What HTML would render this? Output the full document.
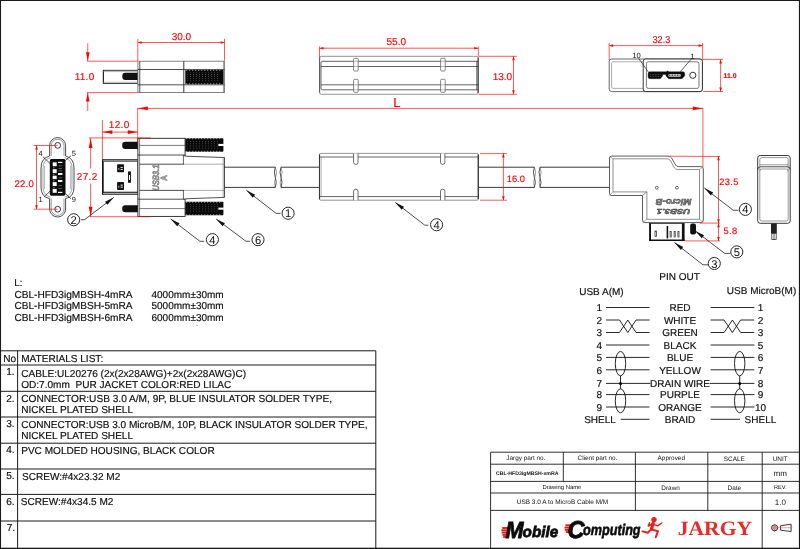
<!DOCTYPE html>
<html><head><meta charset="utf-8"><title>USB 3.0 A to MicroB Cable M/M</title>
<style>
html,body{margin:0;padding:0;background:#fff;overflow:hidden}
svg{display:block}
#sheet{width:800px;height:549px;will-change:transform;transform:translateZ(0)}
text{font-family:"Liberation Sans",sans-serif;text-rendering:geometricPrecision}
.g{letter-spacing:.3px}
#mtable text,#ltext text,#pinout text{stroke:#111;stroke-width:.18px}
</style></head><body>
<div id="sheet">
<svg width="800" height="549" viewBox="0 0 800 549">
<defs>
<pattern id="kn" width="3" height="2.1" patternUnits="userSpaceOnUse"><rect width="3" height="2.1" fill="#0a0a0a"/><rect x="1" y="0.7" width="0.8" height="0.7" fill="#777"/></pattern>
</defs>
<rect x="0" y="0" width="800" height="549" fill="#fff"/>
<g id="border">
<rect x="0" y="0" width="800" height="1" fill="#1a1a1a"/><rect x="0" y="0" width="1.05" height="549" fill="#1a1a1a"/><rect x="798.9" y="0" width="1.1" height="549" fill="#1a1a1a"/><rect x="0" y="547.7" width="800" height="1.3" fill="#1a1a1a"/>
</g>
<g id="topA">
<rect x="103.4" y="70.3" width="34.5" height="13.1" rx="0" fill="#fff" stroke="#222" stroke-width="0.9"/>
<line x1="103.4" y1="70.3" x2="103.4" y2="83.4" stroke="#222" stroke-width="1.1" />
<line x1="103.4" y1="71.6" x2="137.9" y2="71.6" stroke="#999" stroke-width="0.7" />
<line x1="103.4" y1="82.2" x2="137.9" y2="82.2" stroke="#999" stroke-width="0.7" />
<rect x="122.3" y="72.8" width="20" height="7.2" rx="3" fill="#111"/>
<rect x="137.9" y="61.2" width="86.6" height="31.4" rx="0" fill="#fff" stroke="#666" stroke-width="0.8"/>
<rect x="138" y="61.4" width="1.7" height="31" fill="#ccc"/>
<line x1="139.8" y1="61.2" x2="139.8" y2="92.6" stroke="#222" stroke-width="0.7" />
<line x1="137.9" y1="69.5" x2="224.5" y2="69.5" stroke="#222" stroke-width="0.8" />
<line x1="137.9" y1="84.8" x2="224.5" y2="84.8" stroke="#222" stroke-width="0.8" />
<line x1="183.8" y1="61.2" x2="183.8" y2="92.6" stroke="#222" stroke-width="0.9" />
<line x1="223.4" y1="61.2" x2="223.4" y2="92.6" stroke="#555" stroke-width="0.6" />
<rect x="185.3" y="69.9" width="38.1" height="14.3" rx="0.8" fill="#0a0a0a"/><rect x="187.3" y="72.5" width="32.1" height="9.1" fill="url(#kn)"/><line x1="186.3" y1="70.3" x2="222.4" y2="70.3" stroke="#fff" stroke-width="0.8" stroke-dasharray="0.9 2.1"/><line x1="186.3" y1="83.8" x2="222.4" y2="83.8" stroke="#fff" stroke-width="0.8" stroke-dasharray="0.9 2.1"/>
</g>
<g id="dimTopA">
<line x1="137.8" y1="39" x2="137.8" y2="61" stroke="#f00" stroke-width="0.65" />
<line x1="224.5" y1="38.8" x2="224.5" y2="60.6" stroke="#f00" stroke-width="0.65" />
<line x1="137.8" y1="42.5" x2="224.5" y2="42.5" stroke="#f00" stroke-width="0.65" />
<polygon points="137.80,42.50 141.60,41.20 141.60,43.80" fill="#f00"/>
<polygon points="224.50,42.50 220.70,43.80 220.70,41.20" fill="#f00"/>
<text x="181.4" y="40" font-size="10" text-anchor="middle" fill="#f00"  stroke="#f00" stroke-width="0.15">30.0</text>
<line x1="87" y1="61.2" x2="137.8" y2="61.2" stroke="#f00" stroke-width="0.65" />
<line x1="87" y1="92.6" x2="137.8" y2="92.6" stroke="#f00" stroke-width="0.65" />
<line x1="87.75" y1="43.4" x2="87.75" y2="61.2" stroke="#f00" stroke-width="0.65" />
<polygon points="87.75,61.00 85.95,52.20 89.55,52.20" fill="#f00"/>
<line x1="87.75" y1="92.6" x2="87.75" y2="111" stroke="#f00" stroke-width="0.65" />
<polygon points="87.75,92.80 89.55,101.60 85.95,101.60" fill="#f00"/>
<text x="84.6" y="79.6" font-size="10" text-anchor="middle" fill="#f00" class="g" stroke="#f00" stroke-width="0.15">11.0</text>
</g>
<g id="topMid">
<rect x="319.5" y="56.3" width="158.8" height="38.0" rx="2" fill="#fff" stroke="#777" stroke-width="0.8"/>
<line x1="478.1" y1="57.5" x2="478.1" y2="93" stroke="#222" stroke-width="0.9" />
<line x1="319.7" y1="58" x2="319.7" y2="92.6" stroke="#444" stroke-width="0.8" />
<path d="M478.3,61.3 H322.5 Q321,61.3 321,62.8 V88.2 Q321,89.8 322.5,89.8 H478.3" fill="none" stroke="#222" stroke-width="0.7" />
<line x1="321" y1="66.5" x2="478.3" y2="66.5" stroke="#222" stroke-width="0.7" />
<line x1="321" y1="84.8" x2="478.3" y2="84.8" stroke="#222" stroke-width="0.7" />
<line x1="476.8" y1="61.3" x2="476.8" y2="89.8" stroke="#222" stroke-width="0.7" />
<rect x="353.6" y="58.3" width="4.6" height="12.7" rx="1" fill="#fff" stroke="#555" stroke-width="0.7"/>
<rect x="353.6" y="79.3" width="4.6" height="13.0" rx="1" fill="#fff" stroke="#555" stroke-width="0.7"/>
<line x1="353.6" y1="61.3" x2="358.20000000000005" y2="61.3" stroke="#777" stroke-width="0.5" />
<line x1="353.6" y1="66.5" x2="358.20000000000005" y2="66.5" stroke="#777" stroke-width="0.5" />
<line x1="353.6" y1="84.8" x2="358.20000000000005" y2="84.8" stroke="#777" stroke-width="0.5" />
<line x1="353.6" y1="89.8" x2="358.20000000000005" y2="89.8" stroke="#777" stroke-width="0.5" />
<rect x="440.6" y="58.3" width="4.6" height="12.7" rx="1" fill="#fff" stroke="#555" stroke-width="0.7"/>
<rect x="440.6" y="79.3" width="4.6" height="13.0" rx="1" fill="#fff" stroke="#555" stroke-width="0.7"/>
<line x1="440.6" y1="61.3" x2="445.20000000000005" y2="61.3" stroke="#777" stroke-width="0.5" />
<line x1="440.6" y1="66.5" x2="445.20000000000005" y2="66.5" stroke="#777" stroke-width="0.5" />
<line x1="440.6" y1="84.8" x2="445.20000000000005" y2="84.8" stroke="#777" stroke-width="0.5" />
<line x1="440.6" y1="89.8" x2="445.20000000000005" y2="89.8" stroke="#777" stroke-width="0.5" />
</g>
<g id="dimTopMid">
<line x1="319.5" y1="46.5" x2="319.5" y2="58" stroke="#f00" stroke-width="0.65" />
<line x1="478.3" y1="46.5" x2="478.3" y2="56.3" stroke="#f00" stroke-width="0.65" />
<line x1="319.5" y1="48.2" x2="478.3" y2="48.2" stroke="#f00" stroke-width="0.65" />
<polygon points="319.50,48.20 323.50,46.90 323.50,49.50" fill="#f00"/>
<polygon points="478.30,48.20 474.30,49.50 474.30,46.90" fill="#f00"/>
<text x="396.3" y="45.1" font-size="10" text-anchor="middle" fill="#f00"  stroke="#f00" stroke-width="0.15">55.0</text>
<line x1="478.5" y1="56.3" x2="516.8" y2="56.3" stroke="#f00" stroke-width="0.65" />
<line x1="478.5" y1="94.3" x2="516.8" y2="94.3" stroke="#f00" stroke-width="0.65" />
<line x1="513.5" y1="56.3" x2="513.5" y2="94.3" stroke="#f00" stroke-width="0.65" />
<polygon points="513.50,56.30 514.80,60.30 512.20,60.30" fill="#f00"/>
<polygon points="513.50,94.30 512.20,90.30 514.80,90.30" fill="#f00"/>
<text x="502.4" y="79.9" font-size="10" text-anchor="middle" fill="#f00"  stroke="#f00" stroke-width="0.15">13.0</text>
</g>
<g id="topB">
<rect x="609.2" y="59" width="93.2" height="32.6" rx="2.5" fill="#fff" stroke="#444" stroke-width="0.8"/>
<rect x="611.6" y="61.8" width="88.4" height="26.6" rx="1.5" fill="none" stroke="#777" stroke-width="0.6"/>
<rect x="643.2" y="59" width="59.2" height="32.6" rx="2.5" fill="#fff" stroke="#222" stroke-width="0.9"/>
<rect x="646.4" y="61.8" width="52.6" height="26.6" rx="2" fill="none" stroke="#444" stroke-width="0.7"/>
<path d="M650,71.8 H683 Q684.7,71.8 684.7,73.6 V75.8 L682,78.7 H668.6 L666,76 V74.5 H662.6 V76 L660.2,78.7 H650 Q648.1,78.7 648.1,77 V73.4 Q648.1,71.8 650,71.8 Z" fill="#0c0c0c" stroke="#111" stroke-width="0.4" />
<circle cx="667.6" cy="71.8" r="1" fill="#111"/>
<rect x="668.4" y="73.9" width="12.4" height="2.9" rx="1" fill="#ddd"/>
<line x1="669" y1="75.3" x2="680.4" y2="75.3" stroke="#333" stroke-width="1.6" stroke-dasharray="0.8 0.8"/>
<line x1="650.2" y1="74.6" x2="660.6" y2="74.6" stroke="#777" stroke-width="0.7" stroke-dasharray="0.7 0.9"/>
<line x1="650.2" y1="76.4" x2="660.6" y2="76.4" stroke="#777" stroke-width="0.7" stroke-dasharray="0.7 0.9"/>
<circle cx="692.8" cy="75.3" r="3.1" fill="none" stroke="#333" stroke-width="1"/>
<text x="636.6" y="57.6" font-size="7.6" text-anchor="middle" fill="#111" >10</text>
<text x="692.4" y="58.6" font-size="7.6" text-anchor="middle" fill="#111" >1</text>
<line x1="638.8" y1="58.6" x2="648.8" y2="72.6" stroke="#222" stroke-width="0.7" />
<line x1="691.2" y1="59.2" x2="680.2" y2="71.8" stroke="#222" stroke-width="0.7" />
</g>
<g id="dimTopB">
<line x1="609.2" y1="43" x2="609.2" y2="60" stroke="#f00" stroke-width="0.65" />
<line x1="702.6" y1="43" x2="702.6" y2="60" stroke="#f00" stroke-width="0.65" />
<line x1="609.2" y1="45.6" x2="702.6" y2="45.6" stroke="#f00" stroke-width="0.65" />
<polygon points="609.20,45.60 613.20,44.30 613.20,46.90" fill="#f00"/>
<polygon points="702.60,45.60 698.60,46.90 698.60,44.30" fill="#f00"/>
<text x="661.4" y="43" font-size="10" text-anchor="middle" fill="#f00" textLength="17.8" lengthAdjust="spacingAndGlyphs" stroke="#f00" stroke-width="0.15">32.3</text>
<line x1="703" y1="59.4" x2="723" y2="59.4" stroke="#f00" stroke-width="0.65" />
<line x1="703" y1="91.5" x2="723" y2="91.5" stroke="#f00" stroke-width="0.65" />
<line x1="720.6" y1="59.4" x2="720.6" y2="91.5" stroke="#f00" stroke-width="0.65" />
<polygon points="720.60,59.40 721.90,63.40 719.30,63.40" fill="#f00"/>
<polygon points="720.60,91.50 719.30,87.50 721.90,87.50" fill="#f00"/>
<text x="730.1" y="78" font-size="6.9" text-anchor="middle" fill="#f00" font-weight="bold" stroke="#f00" stroke-width="0.15">11.0</text>
</g>
<g id="dimL">
<line x1="137.7" y1="107.8" x2="137.7" y2="150" stroke="#f00" stroke-width="0.65" />
<line x1="702.9" y1="107.8" x2="702.9" y2="167" stroke="#f00" stroke-width="0.65" />
<line x1="137.8" y1="108.4" x2="703" y2="108.4" stroke="#f00" stroke-width="0.65" />
<polygon points="137.90,108.40 147.90,106.50 147.90,110.30" fill="#f00"/>
<polygon points="702.80,108.40 692.80,110.30 692.80,106.50" fill="#f00"/>
<text x="393.3" y="106.5" font-size="13" text-anchor="start" fill="#f00"  stroke="#f00" stroke-width="0.15">L</text>
</g>
<g id="endView">
<path d="M49.6,156 V145.6 A8,8 0 0 1 65.6,145.6 V156 M49.6,198.6 V209 A8,8 0 0 0 65.6,209 V198.6" fill="none" stroke="#222" stroke-width="0.8" />
<path d="M51.2,156 V145.6 A6.4,6.4 0 0 1 64,145.6 V156 M51.2,198.6 V209 A6.4,6.4 0 0 0 64,209 V198.6" fill="none" stroke="#555" stroke-width="0.6" />
<path d="M49.6,156 Q41,158 41,168 V187 Q41,197 49.6,198.6 M65.6,156 Q74,158 74,168 V187 Q74,197 65.6,198.6" fill="none" stroke="#222" stroke-width="0.8" />
<path d="M50.4,157.6 Q43,160 43,168 V187 Q43,195 50.4,197.2 M64.8,157.6 Q72,160 72,168 V187 Q72,195 64.8,197.2" fill="none" stroke="#666" stroke-width="0.6" />
<line x1="44.6" y1="166" x2="44.6" y2="189" stroke="#888" stroke-width="0.6" />
<line x1="70.6" y1="166" x2="70.6" y2="189" stroke="#888" stroke-width="0.6" />
<circle cx="57.7" cy="145.4" r="2.9" fill="none" stroke="#222" stroke-width="0.9"/>
<circle cx="57.7" cy="209.2" r="2.9" fill="none" stroke="#222" stroke-width="0.9"/>
<rect x="49.8" y="159.1" width="15.7" height="36.6" rx="1.6" fill="#0c0c0c"/>
<rect x="52.7" y="162.3" width="4" height="3.9" fill="#fff"/>
<rect x="52.7" y="169.2" width="4" height="3.9" fill="#fff"/>
<rect x="52.7" y="175.7" width="4" height="3.4" fill="#fff"/>
<rect x="52.7" y="182.1" width="4" height="3.9" fill="#fff"/>
<rect x="52.7" y="188.9" width="4" height="3.9" fill="#fff"/>
<rect x="58" y="161.8" width="4.4" height="1.2" fill="#f4f4f4"/>
<rect x="58" y="173" width="4.4" height="2" fill="#f4f4f4"/>
<rect x="58" y="180" width="4.4" height="2" fill="#f4f4f4"/>
<rect x="58" y="191.8" width="4.4" height="1.2" fill="#f4f4f4"/>
<rect x="58.6" y="165.5" width="3.4" height="0.7" fill="#777"/>
<rect x="58.6" y="168" width="3.4" height="0.7" fill="#777"/>
<rect x="58.6" y="170.5" width="3.4" height="0.7" fill="#777"/>
<rect x="58.6" y="177.5" width="3.4" height="0.7" fill="#777"/>
<rect x="58.6" y="185" width="3.4" height="0.7" fill="#777"/>
<rect x="58.6" y="188" width="3.4" height="0.7" fill="#777"/>
<rect x="53" y="167.4" width="1.6" height="0.9" fill="#999"/>
<rect x="53" y="174.2" width="1.6" height="0.9" fill="#999"/>
<rect x="53" y="180.3" width="1.6" height="0.9" fill="#999"/>
<rect x="53" y="187.2" width="1.6" height="0.9" fill="#999"/>
<text x="40.6" y="156.4" font-size="7.5" text-anchor="middle" fill="#111" >4</text>
<text x="73.8" y="156.4" font-size="7.5" text-anchor="middle" fill="#111" >5</text>
<text x="40.6" y="202.4" font-size="7.5" text-anchor="middle" fill="#111" >1</text>
<text x="73.8" y="202.4" font-size="7.5" text-anchor="middle" fill="#111" >9</text>
<line x1="42.9" y1="156.6" x2="50.3" y2="163.8" stroke="#222" stroke-width="0.8" />
<line x1="70.9" y1="155.9" x2="65" y2="160.8" stroke="#222" stroke-width="0.8" />
<line x1="44.4" y1="196.8" x2="50.8" y2="190.4" stroke="#222" stroke-width="0.8" />
<line x1="70.9" y1="198.7" x2="65" y2="193.3" stroke="#222" stroke-width="0.8" />
</g>
<g id="dimEnd">
<line x1="33.6" y1="145.5" x2="57.7" y2="145.5" stroke="#f00" stroke-width="0.65" />
<line x1="33.6" y1="209.2" x2="57.7" y2="209.2" stroke="#f00" stroke-width="0.65" />
<line x1="36.5" y1="145.5" x2="36.5" y2="209.2" stroke="#f00" stroke-width="0.65" />
<polygon points="36.50,145.50 37.80,149.50 35.20,149.50" fill="#f00"/>
<polygon points="36.50,209.20 35.20,205.20 37.80,205.20" fill="#f00"/>
<text x="24.3" y="186.8" font-size="9.5" text-anchor="middle" fill="#f00" class="g" stroke="#f00" stroke-width="0.15">22.0</text>
</g>
<g id="mainA">
<rect x="102.6" y="159.8" width="35.3" height="34.5" rx="0" fill="#fff" stroke="#222" stroke-width="0.8"/>
<line x1="102.9" y1="159.6" x2="102.9" y2="194.5" stroke="#111" stroke-width="1.6" />
<rect x="103" y="159.9" width="34.8" height="1.5" fill="#bbb"/>
<rect x="103" y="192.2" width="34.8" height="2.1" fill="#bbb"/>
<line x1="102.6" y1="159.8" x2="137.9" y2="159.8" stroke="#222" stroke-width="0.8" />
<line x1="102.6" y1="161.4" x2="137.9" y2="161.4" stroke="#333" stroke-width="0.7" />
<line x1="102.2" y1="192.2" x2="137.9" y2="192.2" stroke="#111" stroke-width="1.1" />
<line x1="102.6" y1="194.3" x2="137.9" y2="194.3" stroke="#333" stroke-width="0.7" />
<rect x="117.1" y="164.3" width="6.9" height="8" rx="0.8" fill="#111"/>
<rect x="120.6" y="166.9" width="2.2" height="1.1" fill="#ddd"/>
<rect x="120.6" y="168.9" width="2.2" height="1.1" fill="#ddd"/>
<rect x="118.4" y="168.10000000000002" width="0.9" height="1.8" fill="#ccc"/>
<rect x="117.1" y="182" width="6.9" height="8" rx="0.8" fill="#111"/>
<rect x="120.6" y="184.6" width="2.2" height="1.1" fill="#ddd"/>
<rect x="120.6" y="186.6" width="2.2" height="1.1" fill="#ddd"/>
<rect x="118.4" y="185.8" width="0.9" height="1.8" fill="#ccc"/>
<rect x="128.5" y="171.9" width="2.0" height="10.4" rx="0" fill="#fff" stroke="#111" stroke-width="0.9"/>
<line x1="129.5" y1="171.9" x2="129.5" y2="175" stroke="#111" stroke-width="1.6" />
<line x1="129.5" y1="180" x2="129.5" y2="182.3" stroke="#111" stroke-width="1.6" />
<rect x="122.2" y="141.8" width="20" height="7.1" rx="3.2" fill="#111"/>
<rect x="122.2" y="205.2" width="20" height="7.1" rx="3.2" fill="#111"/>
<rect x="137.9" y="138.3" width="47.2" height="78.1" rx="0" fill="#fff" stroke="#222" stroke-width="0.9"/>
<line x1="139.6" y1="138.3" x2="139.6" y2="216.4" stroke="#222" stroke-width="0.6" />
<line x1="139.6" y1="145.4" x2="185.1" y2="145.4" stroke="#222" stroke-width="0.6" />
<line x1="139.6" y1="208.6" x2="185.1" y2="208.6" stroke="#222" stroke-width="0.6" />
<line x1="137.9" y1="155" x2="185.1" y2="155" stroke="#222" stroke-width="0.8" />
<line x1="137.9" y1="199.2" x2="185.1" y2="199.2" stroke="#222" stroke-width="0.8" />
<path d="M183.4,155.6 Q185.5,156.2 188,156.3 L224.5,157.5 V197.4 L188,198.7 Q185.5,198.8 183.4,199.2" fill="#fff" stroke="#222" stroke-width="0.8" />
<line x1="183.4" y1="155" x2="183.4" y2="164.2" stroke="#222" stroke-width="0.7" />
<line x1="183.4" y1="190.4" x2="183.4" y2="199.2" stroke="#222" stroke-width="0.7" />
<line x1="139.6" y1="164.2" x2="184" y2="164.2" stroke="#222" stroke-width="0.8" />
<line x1="139.6" y1="190.4" x2="184" y2="190.4" stroke="#222" stroke-width="0.8" />
<line x1="184" y1="164.2" x2="224.5" y2="164.2" stroke="#888" stroke-width="0.7" />
<line x1="184" y1="190.4" x2="224.5" y2="190.4" stroke="#888" stroke-width="0.7" />
<line x1="223.2" y1="157.5" x2="223.2" y2="197.4" stroke="#666" stroke-width="0.6" />
<rect x="185.3" y="138.3" width="38.1" height="13.4" rx="0.8" fill="#0a0a0a"/><rect x="187.3" y="140.9" width="32.1" height="8.2" fill="url(#kn)"/><line x1="186.3" y1="138.7" x2="222.4" y2="138.7" stroke="#fff" stroke-width="0.8" stroke-dasharray="0.9 2.1"/><line x1="186.3" y1="151.3" x2="222.4" y2="151.3" stroke="#fff" stroke-width="0.8" stroke-dasharray="0.9 2.1"/>
<rect x="218.4" y="143.9" width="5.4" height="2.1" fill="#fff"/>
<rect x="185.3" y="201.8" width="38.1" height="13.5" rx="0.8" fill="#0a0a0a"/><rect x="187.3" y="204.4" width="32.1" height="8.3" fill="url(#kn)"/><line x1="186.3" y1="202.2" x2="222.4" y2="202.2" stroke="#fff" stroke-width="0.8" stroke-dasharray="0.9 2.1"/><line x1="186.3" y1="214.9" x2="222.4" y2="214.9" stroke="#fff" stroke-width="0.8" stroke-dasharray="0.9 2.1"/>
<rect x="218.4" y="207.6" width="5.4" height="2.1" fill="#fff"/>
<text transform="translate(158.9,190.4) rotate(-90)" font-size="9.2" font-weight="bold" font-style="italic" fill="#aaa" stroke="#444" stroke-width="0.35" textLength="25.6" lengthAdjust="spacingAndGlyphs">USB3.1</text>
<text transform="translate(166.8,180.9) rotate(-90)" font-size="9" font-weight="bold" fill="#bbb" stroke="#444" stroke-width="0.35" textLength="6" lengthAdjust="spacingAndGlyphs">A</text>
</g>
<g id="dimMainA">
<line x1="102.4" y1="120" x2="102.4" y2="159.6" stroke="#f00" stroke-width="0.65" />
<line x1="102.4" y1="132.1" x2="137.8" y2="132.1" stroke="#f00" stroke-width="0.65" />
<polygon points="102.40,132.10 112.40,130.25 112.40,133.95" fill="#f00"/>
<polygon points="137.80,132.10 127.80,133.95 127.80,130.25" fill="#f00"/>
<text x="119.2" y="127.6" font-size="10" text-anchor="middle" fill="#f00" class="g" stroke="#f00" stroke-width="0.15">12.0</text>
<line x1="89" y1="137.9" x2="150.7" y2="137.9" stroke="#f00" stroke-width="0.65" />
<line x1="89.6" y1="216.7" x2="150.7" y2="216.7" stroke="#f00" stroke-width="0.65" />
<line x1="90.6" y1="137.9" x2="90.6" y2="168.5" stroke="#f00" stroke-width="0.65" />
<line x1="90.6" y1="183.5" x2="90.6" y2="216.7" stroke="#f00" stroke-width="0.65" />
<polygon points="90.60,137.90 92.45,147.90 88.75,147.90" fill="#f00"/>
<polygon points="90.60,216.70 88.75,206.70 92.45,206.70" fill="#f00"/>
<text x="87.2" y="179.6" font-size="10" text-anchor="middle" fill="#f00" class="g" stroke="#f00" stroke-width="0.15">27.2</text>
</g>
<g id="cable">
<line x1="224.5" y1="167.2" x2="275.3" y2="167.2" stroke="#222" stroke-width="0.9" />
<line x1="224.5" y1="187.4" x2="275.3" y2="187.4" stroke="#222" stroke-width="0.9" />
<line x1="281" y1="167.2" x2="319.4" y2="167.2" stroke="#222" stroke-width="0.9" />
<line x1="281" y1="187.4" x2="319.4" y2="187.4" stroke="#222" stroke-width="0.9" />
<path d="M275.3,167.2 Q273.3,172 275.3,177.3 Q277.3,182.5 275.3,187.4" fill="none" stroke="#222" stroke-width="0.8" />
<path d="M275.3,167.2 Q277.6,172 275.6,177.3 Q273.6,182.5 275.3,187.4" fill="none" stroke="#555" stroke-width="0.6" />
<path d="M281,167.2 Q279,172 281,177.3 Q283,182.5 281,187.4" fill="none" stroke="#222" stroke-width="0.8" />
<path d="M281,167.2 Q283.2,172 281.2,177.3 Q279.2,182.5 281,187.4" fill="none" stroke="#555" stroke-width="0.6" />
<line x1="478.6" y1="167.2" x2="534.4" y2="167.2" stroke="#222" stroke-width="0.9" />
<line x1="478.6" y1="187.4" x2="534.4" y2="187.4" stroke="#222" stroke-width="0.9" />
<line x1="540" y1="167.2" x2="609.4" y2="167.2" stroke="#222" stroke-width="0.9" />
<line x1="540" y1="187.4" x2="609.4" y2="187.4" stroke="#222" stroke-width="0.9" />
<path d="M534.4,167.2 Q532.4,172 534.4,177.3 Q536.4,182.5 534.4,187.4" fill="none" stroke="#222" stroke-width="0.8" />
<path d="M534.4,167.2 Q536.7,172 534.7,177.3 Q532.7,182.5 534.4,187.4" fill="none" stroke="#555" stroke-width="0.6" />
<path d="M540,167.2 Q538,172 540,177.3 Q542,182.5 540,187.4" fill="none" stroke="#222" stroke-width="0.8" />
<path d="M540,167.2 Q542.2,172 540.2,177.3 Q538.2,182.5 540,187.4" fill="none" stroke="#555" stroke-width="0.6" />
</g>
<g id="mainMid">
<rect x="319.4" y="153.4" width="159.0" height="46.8" rx="1.5" fill="#fff" stroke="#777" stroke-width="0.8"/>
<line x1="478.2" y1="154.4" x2="478.2" y2="199.2" stroke="#222" stroke-width="1.1" />
<line x1="319.6" y1="154.4" x2="319.6" y2="199.2" stroke="#222" stroke-width="0.9" />
<line x1="321.2" y1="157" x2="321.2" y2="196.6" stroke="#777" stroke-width="0.5" />
<line x1="319.4" y1="157" x2="478.6" y2="157" stroke="#222" stroke-width="0.7" />
<line x1="319.4" y1="196.6" x2="478.6" y2="196.6" stroke="#222" stroke-width="0.7" />
<path d="M353.6,153.6 V162.4 Q353.6,164.4 355.8,164.4 Q358.0,164.4 358.0,162.4 V153.6" fill="#fff" stroke="#333" stroke-width="0.7" />
<path d="M353.6,200.2 V191.2 Q353.6,189.2 355.8,189.2 Q358.0,189.2 358.0,191.2 V200.2" fill="#fff" stroke="#333" stroke-width="0.7" />
<path d="M440.5,153.6 V162.4 Q440.5,164.4 442.7,164.4 Q444.9,164.4 444.9,162.4 V153.6" fill="#fff" stroke="#333" stroke-width="0.7" />
<path d="M440.5,200.2 V191.2 Q440.5,189.2 442.7,189.2 Q444.9,189.2 444.9,191.2 V200.2" fill="#fff" stroke="#333" stroke-width="0.7" />
</g>
<g id="dimMainMid">
<line x1="480" y1="153.6" x2="507" y2="153.6" stroke="#f00" stroke-width="0.65" />
<line x1="480" y1="200.2" x2="507" y2="200.2" stroke="#f00" stroke-width="0.65" />
<line x1="503.4" y1="153.6" x2="503.4" y2="200.2" stroke="#f00" stroke-width="0.65" />
<polygon points="503.40,153.60 504.70,157.60 502.10,157.60" fill="#f00"/>
<polygon points="503.40,200.20 502.10,196.20 504.70,196.20" fill="#f00"/>
<text x="515.8" y="181.6" font-size="9.4" text-anchor="middle" fill="#f00"  stroke="#f00" stroke-width="0.15">16.0</text>
</g>
<g id="mainB">
<path d="M611.6,156.1 H668 Q670.5,156.1 671.6,158 L675.6,165 Q676.5,166.6 678.5,166.6 H700.8 Q703.3,166.6 703.3,169 V220 Q703.3,222.6 700.8,222.6 H645 Q642.5,222.6 642.5,220 V195.5 H611.6 Q609.5,195.5 609.5,193.4 V158.2 Q609.5,156.1 611.6,156.1 Z" fill="#fff" stroke="#333" stroke-width="0.8" />
<path d="M613,158.8 H667 Q669.3,158.8 670.4,160.6 L674.4,167.8 Q675.4,169.5 677.5,169.5 H699.5 V219.3 H646.9 V191.9 H613 Z" fill="none" stroke="#555" stroke-width="0.65" />
<line x1="642.5" y1="195.5" x2="646.9" y2="191.9" stroke="#444" stroke-width="0.6" />
<line x1="609.5" y1="195.5" x2="613" y2="191.9" stroke="#666" stroke-width="0.5" />
<line x1="609.5" y1="156.1" x2="613" y2="158.8" stroke="#666" stroke-width="0.5" />
<line x1="703.3" y1="222.6" x2="699.5" y2="219.3" stroke="#666" stroke-width="0.5" />
<line x1="642.5" y1="222.6" x2="646.9" y2="219.3" stroke="#666" stroke-width="0.5" />
<line x1="703.3" y1="166.6" x2="699.5" y2="169.5" stroke="#666" stroke-width="0.5" />
<circle cx="656.8" cy="187.7" r="1.4" fill="none" stroke="#222" stroke-width="0.7"/>
<circle cx="676.9" cy="187.7" r="1.4" fill="none" stroke="#222" stroke-width="0.7"/>
<text transform="translate(691.6,198.7) rotate(180)" font-size="8.6" font-weight="bold" font-style="italic" fill="#999" stroke="#333" stroke-width="0.45" textLength="36" lengthAdjust="spacingAndGlyphs">Micro-B</text>
<text transform="translate(690.2,209) rotate(180)" font-size="7.2" font-weight="bold" font-style="italic" fill="#999" stroke="#333" stroke-width="0.45" textLength="33.5" lengthAdjust="spacingAndGlyphs">USB3.1</text>
<rect x="649.6" y="223.5" width="34.6" height="16.9" rx="0" fill="#fff" stroke="#222" stroke-width="0.8"/>
<line x1="650.2" y1="223.5" x2="650.2" y2="240.8" stroke="#111" stroke-width="1.6" />
<line x1="649.4" y1="240.2" x2="684.6" y2="240.2" stroke="#111" stroke-width="1.4" />
<line x1="683" y1="223.5" x2="683" y2="240.8" stroke="#111" stroke-width="2.2" />
<line x1="667.4" y1="226" x2="667.4" y2="238.4" stroke="#111" stroke-width="1.6" />
<rect x="655" y="231" width="1.4" height="5.6" rx="0" fill="none" stroke="#222" stroke-width="0.7"/>
<rect x="670.1" y="231.4" width="1.1" height="5.6" rx="0" fill="none" stroke="#222" stroke-width="0.7"/>
<rect x="674.1" y="231.4" width="1.1" height="5.6" rx="0" fill="none" stroke="#222" stroke-width="0.7"/>
<rect x="677.9" y="231.4" width="1.1" height="5.6" rx="0" fill="none" stroke="#222" stroke-width="0.7"/>
<rect x="690.2" y="223.4" width="5.8" height="11.2" rx="2" fill="#111"/>
</g>
<g id="dimMainB">
<line x1="669.9" y1="156.2" x2="720" y2="156.5" stroke="#f00" stroke-width="0.65" />
<line x1="700" y1="223.1" x2="720" y2="223.1" stroke="#f00" stroke-width="0.65" />
<line x1="684.4" y1="240.9" x2="720" y2="240.9" stroke="#f00" stroke-width="0.65" />
<line x1="718.5" y1="156.2" x2="718.5" y2="240.9" stroke="#f00" stroke-width="0.65" />
<polygon points="718.50,156.20 719.80,160.20 717.20,160.20" fill="#f00"/>
<polygon points="718.50,223.20 717.20,219.20 719.80,219.20" fill="#f00"/>
<polygon points="718.50,223.20 719.80,227.20 717.20,227.20" fill="#f00"/>
<polygon points="718.50,240.90 717.20,236.90 719.80,236.90" fill="#f00"/>
<text x="719.3" y="184.7" font-size="9.4" text-anchor="start" fill="#f00" class="g" stroke="#f00" stroke-width="0.15">23.5</text>
<text x="723.6" y="233.9" font-size="9.4" text-anchor="start" fill="#f00" class="g" stroke="#f00" stroke-width="0.15">5.8</text>
</g>
<g id="sideView">
<rect x="757.7" y="155.5" width="32.5" height="67.8" rx="2.5" fill="#fff" stroke="#222" stroke-width="0.9"/>
<rect x="759.8" y="157.6" width="28.4" height="63.4" rx="2" fill="none" stroke="#555" stroke-width="0.6"/>
<path d="M757.7,169.5 Q757.7,166.8 760.4,166.8 H787.6 Q790.2,166.8 790.2,169.5" fill="none" stroke="#222" stroke-width="0.8" />
<path d="M759.8,171 Q759.8,169 762,169 H786 Q788.2,169 788.2,171" fill="none" stroke="#555" stroke-width="0.6" />
<line x1="759.8" y1="164.8" x2="788.2" y2="164.8" stroke="#555" stroke-width="0.6" />
<rect x="771" y="223.4" width="5.8" height="10" fill="#222"/>
<rect x="771.8" y="233.4" width="4.4" height="6.2" rx="0" fill="#fff" stroke="#333" stroke-width="0.8"/>
<line x1="774" y1="233.4" x2="774" y2="239.6" stroke="#333" stroke-width="0.8" />
</g>
<g id="balloons">
<circle cx="73.7" cy="219.75" r="6.05" fill="none" stroke="#111" stroke-width="0.9"/>
<text x="73.7" y="223.75" font-size="11.2" text-anchor="middle" fill="#111" >2</text>
<path d="M81,219.7 L84.5,219.7 L113.8,197.4" fill="none" stroke="#222" stroke-width="0.8" />
<polygon points="113.80,197.40 107.31,204.73 105.01,201.70" fill="#111"/>
<circle cx="288.1" cy="213.25" r="6.05" fill="none" stroke="#111" stroke-width="0.9"/>
<text x="288.1" y="217.25" font-size="11.2" text-anchor="middle" fill="#111" >1</text>
<path d="M280.5,213.4 L276.1,213.4 L246.4,190.3" fill="none" stroke="#222" stroke-width="0.8" />
<polygon points="246.40,190.30 255.14,194.69 252.81,197.69" fill="#111"/>
<circle cx="212.4" cy="239.65" r="6.05" fill="none" stroke="#111" stroke-width="0.9"/>
<text x="212.4" y="243.65" font-size="11.2" text-anchor="middle" fill="#111" >4</text>
<path d="M204.2,241.3 L199.9,241.3 L170.7,218.9" fill="none" stroke="#222" stroke-width="0.8" />
<polygon points="170.70,218.90 179.47,223.24 177.16,226.25" fill="#111"/>
<circle cx="258" cy="239.65" r="6.05" fill="none" stroke="#111" stroke-width="0.9"/>
<text x="258" y="243.65" font-size="11.2" text-anchor="middle" fill="#111" >6</text>
<path d="M250.1,241.3 L246,241.3 L216.1,218.9" fill="none" stroke="#222" stroke-width="0.8" />
<polygon points="216.10,218.90 224.92,223.14 222.64,226.18" fill="#111"/>
<circle cx="436.6" cy="224.75" r="6.05" fill="none" stroke="#111" stroke-width="0.9"/>
<text x="436.6" y="228.75" font-size="11.2" text-anchor="middle" fill="#111" >4</text>
<path d="M428.4,225.2 L424.8,225.2 L395.3,202.4" fill="none" stroke="#222" stroke-width="0.8" />
<polygon points="395.30,202.40 404.06,206.77 401.73,209.77" fill="#111"/>
<circle cx="745.4" cy="209.4" r="6.05" fill="none" stroke="#111" stroke-width="0.9"/>
<text x="745.4" y="213.4" font-size="11.2" text-anchor="middle" fill="#111" >4</text>
<path d="M738.5,210.3 L733.3,210.3 L704.4,188.1" fill="none" stroke="#222" stroke-width="0.8" />
<polygon points="704.40,188.10 713.17,192.44 710.86,195.45" fill="#111"/>
<circle cx="736.8" cy="251.9" r="6.05" fill="none" stroke="#111" stroke-width="0.9"/>
<text x="736.8" y="255.9" font-size="11.2" text-anchor="middle" fill="#111" >5</text>
<path d="M730.4,253.4 L724.7,253.4 L695.3,231" fill="none" stroke="#222" stroke-width="0.8" />
<polygon points="695.30,231.00 704.09,235.31 701.78,238.33" fill="#111"/>
<circle cx="714.3" cy="263.5" r="6.05" fill="none" stroke="#111" stroke-width="0.9"/>
<text x="714.3" y="267.5" font-size="11.2" text-anchor="middle" fill="#111" >3</text>
<path d="M708.2,264.8 L703,264.8 L674.5,242.6" fill="none" stroke="#222" stroke-width="0.8" />
<polygon points="674.50,242.60 683.24,247.00 680.91,250.00" fill="#111"/>
</g>
<g id="ltext">
<text x="14.2" y="285.8" font-size="10" text-anchor="start" fill="#111" >L:</text>
<text x="14.4" y="297.8" font-size="10.15" text-anchor="start" fill="#111" >CBL-HFD3igMBSH-4mRA</text>
<text x="151.5" y="297.8" font-size="10" text-anchor="start" fill="#111" >4000mm±30mm</text>
<text x="14.4" y="309.2" font-size="10.15" text-anchor="start" fill="#111" >CBL-HFD3igMBSH-5mRA</text>
<text x="151.5" y="309.2" font-size="10" text-anchor="start" fill="#111" >5000mm±30mm</text>
<text x="14.4" y="320.7" font-size="10.15" text-anchor="start" fill="#111" >CBL-HFD3igMBSH-6mRA</text>
<text x="151.5" y="320.7" font-size="10" text-anchor="start" fill="#111" >6000mm±30mm</text>
<rect x="196.6" y="325.1" width="0.9" height="0.8" fill="#444"/>
</g>
<g id="mtable">
<line x1="0" y1="350.8" x2="375.8" y2="350.8" stroke="#1a1a1a" stroke-width="1" />
<line x1="375.8" y1="350.8" x2="375.8" y2="548" stroke="#1a1a1a" stroke-width="1" />
<line x1="17.6" y1="350.8" x2="17.6" y2="548" stroke="#1a1a1a" stroke-width="1" />
<line x1="0" y1="365" x2="375.8" y2="365" stroke="#1a1a1a" stroke-width="1" />
<line x1="0" y1="391.3" x2="375.8" y2="391.3" stroke="#1a1a1a" stroke-width="1" />
<line x1="0" y1="417" x2="375.8" y2="417" stroke="#1a1a1a" stroke-width="1" />
<line x1="0" y1="443.2" x2="375.8" y2="443.2" stroke="#1a1a1a" stroke-width="1" />
<line x1="0" y1="469" x2="375.8" y2="469" stroke="#1a1a1a" stroke-width="1" />
<line x1="0" y1="494.4" x2="375.8" y2="494.4" stroke="#1a1a1a" stroke-width="1" />
<line x1="0" y1="521" x2="375.8" y2="521" stroke="#1a1a1a" stroke-width="1" />
<g transform="translate(0,0.4)">
<text x="3.2" y="361.3" font-size="10.07" text-anchor="start" fill="#111" >No</text>
<text x="21.2" y="361.3" font-size="10.07" text-anchor="start" fill="#111" >MATERIALS LIST:</text>
<text x="6.2" y="375" font-size="10.07" text-anchor="start" fill="#111" >1.</text>
<text x="6.2" y="401.3" font-size="10.07" text-anchor="start" fill="#111" >2.</text>
<text x="6.2" y="427" font-size="10.07" text-anchor="start" fill="#111" >3.</text>
<text x="6.2" y="453" font-size="10.07" text-anchor="start" fill="#111" >4.</text>
<text x="6.2" y="478.8" font-size="10.07" text-anchor="start" fill="#111" >5.</text>
<text x="6.2" y="504.3" font-size="10.07" text-anchor="start" fill="#111" >6.</text>
<text x="6.7" y="530.7" font-size="10.07" text-anchor="start" fill="#111" >7.</text>
<text x="21.2" y="376.3" font-size="10.07" text-anchor="start" fill="#111" >CABLE:UL20276 (2x(2x28AWG)+2x(2x28AWG)C)</text>
<text x="21.2" y="387.5" font-size="10.07" text-anchor="start" fill="#111" xml:space="preserve">OD:7.0mm  PUR JACKET COLOR:RED LILAC</text>
<text x="21.2" y="402" font-size="10.13" text-anchor="start" fill="#111" >CONNECTOR:USB 3.0 A/M, 9P, BLUE INSULATOR SOLDER TYPE,</text>
<text x="21.2" y="413" font-size="10.07" text-anchor="start" fill="#111" >NICKEL PLATED SHELL</text>
<text x="21.2" y="428" font-size="10.07" text-anchor="start" fill="#111" >CONNECTOR:USB 3.0 MicroB/M, 10P, BLACK INSULATOR SOLDER TYPE,</text>
<text x="21.2" y="438.8" font-size="10.07" text-anchor="start" fill="#111" >NICKEL PLATED SHELL</text>
<text x="21.2" y="453.8" font-size="10.07" text-anchor="start" fill="#111" >PVC MOLDED HOUSING, BLACK COLOR</text>
<text x="22" y="479.5" font-size="10.07" text-anchor="start" fill="#111" >SCREW:#4x23.32 M2</text>
<text x="20.8" y="505" font-size="10.07" text-anchor="start" fill="#111" >SCREW:#4x34.5 M2</text>
</g>
</g>
<g id="pinout">
<text x="679.5" y="280" font-size="10" text-anchor="middle" fill="#111" >PIN OUT</text>
<text x="579.2" y="294.6" font-size="10" text-anchor="start" fill="#111" >USB A(M)</text>
<text x="726.8" y="294.4" font-size="10" text-anchor="start" fill="#111" >USB MicroB(M)</text>
<text x="680" y="311.2" font-size="10" text-anchor="middle" fill="#111" >RED</text>
<text x="599.2" y="311.2" font-size="10" text-anchor="middle" fill="#111" >1</text>
<text x="760.6" y="311.2" font-size="10" text-anchor="middle" fill="#111" >1</text>
<line x1="606" y1="307.5" x2="649.5" y2="307.5" stroke="#111" stroke-width="0.9" />
<line x1="710.6" y1="307.5" x2="754.4" y2="307.5" stroke="#111" stroke-width="0.9" />
<text x="680" y="323.7" font-size="10" text-anchor="middle" fill="#111" >WHITE</text>
<text x="599.2" y="323.7" font-size="10" text-anchor="middle" fill="#111" >2</text>
<text x="760.6" y="323.7" font-size="10" text-anchor="middle" fill="#111" >2</text>
<text x="680" y="336.2" font-size="10" text-anchor="middle" fill="#111" >GREEN</text>
<text x="599.2" y="336.2" font-size="10" text-anchor="middle" fill="#111" >3</text>
<text x="760.6" y="336.2" font-size="10" text-anchor="middle" fill="#111" >3</text>
<text x="680" y="348.7" font-size="10" text-anchor="middle" fill="#111" >BLACK</text>
<text x="599.2" y="348.7" font-size="10" text-anchor="middle" fill="#111" >4</text>
<text x="760.6" y="348.7" font-size="10" text-anchor="middle" fill="#111" >5</text>
<line x1="606" y1="345.0" x2="649.5" y2="345.0" stroke="#111" stroke-width="0.9" />
<line x1="710.6" y1="345.0" x2="754.4" y2="345.0" stroke="#111" stroke-width="0.9" />
<text x="680" y="361.1" font-size="10" text-anchor="middle" fill="#111" >BLUE</text>
<text x="599.2" y="361.1" font-size="10" text-anchor="middle" fill="#111" >5</text>
<text x="760.6" y="361.1" font-size="10" text-anchor="middle" fill="#111" >6</text>
<line x1="606" y1="357.4" x2="649.5" y2="357.4" stroke="#111" stroke-width="0.9" />
<line x1="710.6" y1="357.4" x2="754.4" y2="357.4" stroke="#111" stroke-width="0.9" />
<text x="680" y="373.5" font-size="10" text-anchor="middle" fill="#111" >YELLOW</text>
<text x="599.2" y="373.5" font-size="10" text-anchor="middle" fill="#111" >6</text>
<text x="760.6" y="373.5" font-size="10" text-anchor="middle" fill="#111" >7</text>
<line x1="606" y1="369.8" x2="649.5" y2="369.8" stroke="#111" stroke-width="0.9" />
<line x1="710.6" y1="369.8" x2="754.4" y2="369.8" stroke="#111" stroke-width="0.9" />
<text x="680" y="387.1" font-size="10" text-anchor="middle" fill="#111" >DRAIN WIRE</text>
<text x="599.2" y="387.1" font-size="10" text-anchor="middle" fill="#111" >7</text>
<text x="760.6" y="387.1" font-size="10" text-anchor="middle" fill="#111" >8</text>
<line x1="606" y1="383.4" x2="650.4" y2="383.4" stroke="#111" stroke-width="0.9" />
<line x1="709.6" y1="383.4" x2="754.4" y2="383.4" stroke="#111" stroke-width="0.9" />
<text x="680" y="398.3" font-size="10" text-anchor="middle" fill="#111" >PURPLE</text>
<text x="599.2" y="398.3" font-size="10" text-anchor="middle" fill="#111" >8</text>
<text x="760.6" y="398.3" font-size="10" text-anchor="middle" fill="#111" >9</text>
<line x1="606" y1="394.6" x2="649.5" y2="394.6" stroke="#111" stroke-width="0.9" />
<line x1="710.6" y1="394.6" x2="754.4" y2="394.6" stroke="#111" stroke-width="0.9" />
<text x="680" y="410.7" font-size="10" text-anchor="middle" fill="#111" >ORANGE</text>
<text x="599.2" y="410.7" font-size="10" text-anchor="middle" fill="#111" >9</text>
<text x="755" y="410.7" font-size="10" text-anchor="start" fill="#111" >10</text>
<line x1="606" y1="407.0" x2="649.5" y2="407.0" stroke="#111" stroke-width="0.9" />
<line x1="710.6" y1="407.0" x2="754.4" y2="407.0" stroke="#111" stroke-width="0.9" />
<text x="680" y="423.0" font-size="10" text-anchor="middle" fill="#111" >BRAID</text>
<text x="584.2" y="423.0" font-size="10" text-anchor="start" fill="#111" >SHELL</text>
<text x="744.6" y="423.0" font-size="10" text-anchor="start" fill="#111" >SHELL</text>
<line x1="620.8" y1="419.3" x2="649.5" y2="419.3" stroke="#111" stroke-width="0.9" />
<line x1="710.6" y1="419.3" x2="740" y2="419.3" stroke="#111" stroke-width="0.9" />
<path d="M606,320 H619.5 L627.8,332.5 L636,320 H649.6" fill="none" stroke="#111" stroke-width="0.9" stroke-linejoin="miter"/>
<path d="M606,332.5 H619.5 L627.8,320 L636,332.5 H649.6" fill="none" stroke="#111" stroke-width="0.9" stroke-linejoin="miter"/>
<path d="M710.6,320 H724.1 L732.4,332.5 L740.6,320 H754.2" fill="none" stroke="#111" stroke-width="0.9" stroke-linejoin="miter"/>
<path d="M710.6,332.5 H724.1 L732.4,320 L740.6,332.5 H754.2" fill="none" stroke="#111" stroke-width="0.9" stroke-linejoin="miter"/>
<ellipse cx="620.5" cy="363.6" rx="5.2" ry="12.2" fill="none" stroke="#111" stroke-width="0.9"/>
<ellipse cx="620.5" cy="400.8" rx="5.2" ry="12" fill="none" stroke="#111" stroke-width="0.9"/>
<line x1="620.5" y1="375.8" x2="620.5" y2="388.8" stroke="#111" stroke-width="0.9" />
<circle cx="620.5" cy="383.4" r="1.5" fill="#000"/>
<ellipse cx="739.7" cy="363.6" rx="5.2" ry="12.2" fill="none" stroke="#111" stroke-width="0.9"/>
<ellipse cx="739.7" cy="400.8" rx="5.2" ry="12" fill="none" stroke="#111" stroke-width="0.9"/>
<line x1="739.7" y1="375.8" x2="739.7" y2="388.8" stroke="#111" stroke-width="0.9" />
<circle cx="739.7" cy="383.4" r="1.5" fill="#000"/>
</g>
<g id="title">
<line x1="490.6" y1="452.2" x2="800" y2="452.2" stroke="#1a1a1a" stroke-width="0.9" />
<line x1="490.6" y1="452.2" x2="490.6" y2="548" stroke="#1a1a1a" stroke-width="0.9" />
<line x1="490.6" y1="464.2" x2="800" y2="464.2" stroke="#1a1a1a" stroke-width="0.9" />
<line x1="490.6" y1="481.4" x2="800" y2="481.4" stroke="#1a1a1a" stroke-width="0.9" />
<line x1="490.6" y1="493" x2="800" y2="493" stroke="#1a1a1a" stroke-width="0.9" />
<line x1="490.6" y1="510.4" x2="800" y2="510.4" stroke="#1a1a1a" stroke-width="0.9" />
<line x1="563.3" y1="452.2" x2="563.3" y2="481.4" stroke="#1a1a1a" stroke-width="0.9" />
<line x1="635.4" y1="452.2" x2="635.4" y2="510.4" stroke="#1a1a1a" stroke-width="0.9" />
<line x1="707.8" y1="452.2" x2="707.8" y2="510.4" stroke="#1a1a1a" stroke-width="0.9" />
<line x1="762.2" y1="452.2" x2="762.2" y2="548" stroke="#1a1a1a" stroke-width="0.9" />
<text x="525.8" y="460" font-size="6.4" text-anchor="middle" fill="#111" >Jargy part no.</text>
<text x="597.5" y="460" font-size="6.4" text-anchor="middle" fill="#111" >Client part no.</text>
<text x="671.3" y="460" font-size="6.4" text-anchor="middle" fill="#111" >Approved</text>
<text x="734.3" y="460.6" font-size="6.4" text-anchor="middle" fill="#111" >SCALE</text>
<text x="780.2" y="460.6" font-size="6.4" text-anchor="middle" fill="#111" >UNIT</text>
<text x="527.2" y="474.8" font-size="5.2" text-anchor="middle" fill="#111" font-weight="bold">CBL-HFD3igMBSH-xmRA</text>
<text x="780.2" y="475.5" font-size="8" text-anchor="middle" fill="#111" >mm</text>
<text x="561.9" y="488.9" font-size="5.9" text-anchor="middle" fill="#111" >Drawing Name</text>
<text x="670.6" y="489.6" font-size="6.4" text-anchor="middle" fill="#111" >Drawn</text>
<text x="734.3" y="489.6" font-size="6.4" text-anchor="middle" fill="#111" >Date</text>
<text x="780.2" y="489.3" font-size="5.6" text-anchor="middle" fill="#111" >REV.</text>
<text x="562.5" y="503.9" font-size="6.46" text-anchor="middle" fill="#111" >USB 3.0 A to MicroB Cable M/M</text>
<text x="780.4" y="504.7" font-size="8" text-anchor="middle" fill="#111" >1.0</text>
</g>
<g id="logos">
<line x1="502.2" y1="528.0" x2="509.2" y2="528.0" stroke="#e41a14" stroke-width="1.9" />
<line x1="501.4" y1="530.3" x2="508.6" y2="530.3" stroke="#e41a14" stroke-width="1.9" />
<line x1="501.6" y1="532.6" x2="508.0" y2="532.6" stroke="#e41a14" stroke-width="1.9" />
<line x1="502.4" y1="534.9" x2="507.4" y2="534.9" stroke="#e41a14" stroke-width="1.9" />
<line x1="503.2" y1="537.0" x2="506.8" y2="537.0" stroke="#e41a14" stroke-width="1.9" />
<text x="505.4" y="537.5" font-size="23.4" font-weight="bold" font-style="italic" fill="#0c0c0c" stroke="#0c0c0c" stroke-width="0.9" textLength="18" lengthAdjust="spacingAndGlyphs">M</text>
<text x="522.6" y="537.4" font-size="15.4" font-weight="bold" font-style="italic" fill="#0c0c0c" stroke="#0c0c0c" stroke-width="0.75" textLength="35.6" lengthAdjust="spacingAndGlyphs">obile</text>
<line x1="565.4" y1="525.3" x2="573" y2="525.3" stroke="#e41a14" stroke-width="1.9" />
<line x1="564.6" y1="527.6" x2="572" y2="527.6" stroke="#e41a14" stroke-width="1.9" />
<line x1="564.8" y1="529.9" x2="571.4" y2="529.9" stroke="#e41a14" stroke-width="1.9" />
<line x1="565.8" y1="532.1" x2="571.6" y2="532.1" stroke="#e41a14" stroke-width="1.9" />
<text x="567.6" y="537.6" font-size="24.4" font-weight="bold" font-style="italic" fill="#0c0c0c" stroke="#0c0c0c" stroke-width="0.8" textLength="17" lengthAdjust="spacingAndGlyphs">C</text>
<text x="583" y="535" font-size="15.4" font-weight="bold" font-style="italic" fill="#0c0c0c" stroke="#0c0c0c" stroke-width="0.6" textLength="57.6" lengthAdjust="spacingAndGlyphs">omputing</text>
<g fill="none" stroke="#e8201c" stroke-linecap="round" stroke-linejoin="round">
<circle cx="654" cy="519.6" r="2.7" fill="#e8201c" stroke="none"/>
<path d="M653.2,523 L651.4,529.2" stroke-width="3.2"/>
<path d="M652.4,524 L648.2,526 L649.6,522.8" stroke-width="1.5"/>
<path d="M653.2,524.4 L657.8,525.8 L661.8,523" stroke-width="1.5"/>
<path d="M651.6,529.4 L658,531.2 L655.8,537.2" stroke-width="2"/>
<path d="M651.2,529.6 L647.8,532.8 L642.4,531.4" stroke-width="2"/>
</g>
<text x="677.8" y="534.9" font-size="20.4" font-weight="bold" fill="#ea2a24" style="font-family:'Liberation Serif',serif" textLength="74.2" lengthAdjust="spacingAndGlyphs">JARGY</text>
<circle cx="774.6" cy="527.8" r="3" fill="none" stroke="#222" stroke-width="1"/>
<circle cx="774.6" cy="527.8" r="1.5" fill="none" stroke="#444" stroke-width="0.6"/>
<path d="M780.6,525.7 L791.1,524.2 V531.5 L780.6,530.2 Z" fill="none" stroke="#222" stroke-width="0.9" />
<line x1="770.8" y1="527.8" x2="792.4" y2="527.8" stroke="#e33" stroke-width="0.5" />
<line x1="774.6" y1="523.6" x2="774.6" y2="532" stroke="#e33" stroke-width="0.5" />
</g>
</svg>
</div></body></html>
